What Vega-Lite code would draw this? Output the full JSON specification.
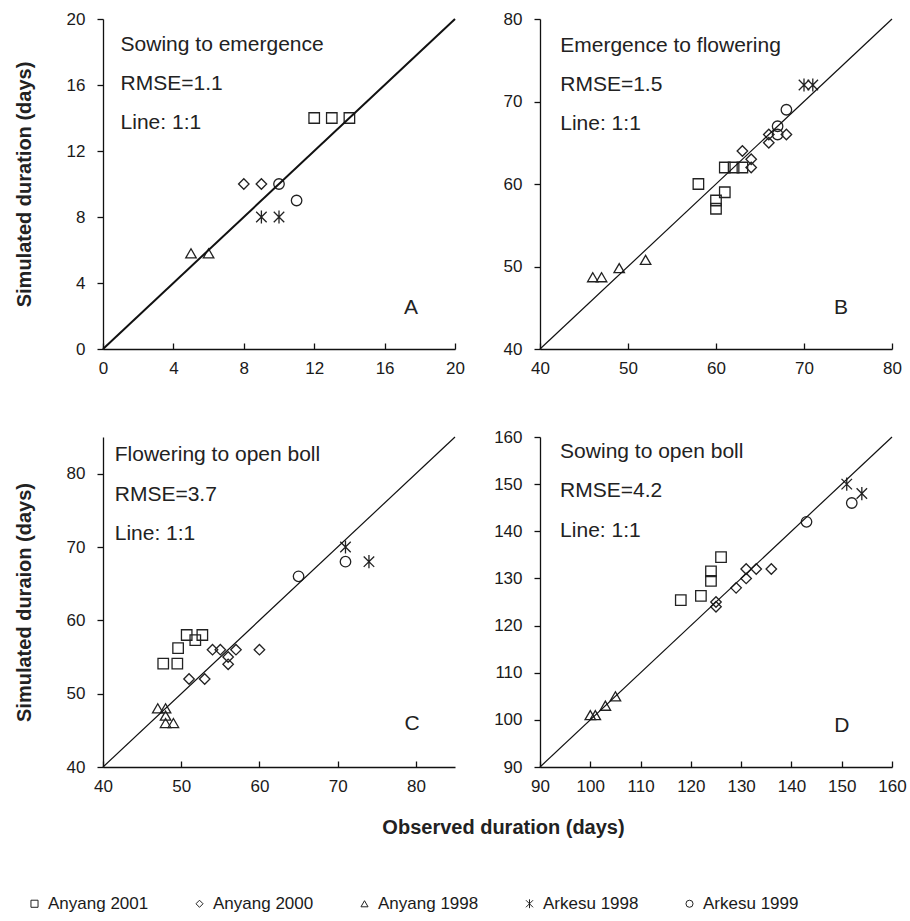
{
  "$schema": "https://vega.github.io/schema/vega-lite/v6.json",
  "padding": {"left": 14, "top": 10, "right": 4, "bottom": 8},
  "background": "white",
  "bounds": "flush",
  "columns": 2,
  "spacing": {"row": 88, "column": 85},
  "config": {
    "font": "Liberation Sans",
    "view": {"stroke": null},
    "axis": {
      "grid": false,
      "labelFlush": false,
      "labelOverlap": false,
      "domainColor": "#111",
      "tickColor": "#111",
      "domainWidth": 1.3,
      "tickWidth": 1.3,
      "labelFont": "Liberation Sans",
      "labelFontSize": 17,
      "labelColor": "#1a1a1a",
      "titleFont": "Liberation Sans",
      "titleFontSize": 20,
      "titleFontWeight": "bold",
      "titleColor": "#222"
    },
    "axisX": {"tickSize": -6, "labelPadding": 17},
    "axisY": {"tickSize": 6, "labelPadding": 12, "titlePadding": 32},
    "legend": {
      "orient": "none",
      "legendX": -77,
      "legendY": 876,
      "direction": "horizontal",
      "title": null,
      "labelFont": "Liberation Sans",
      "labelFontSize": 17,
      "labelColor": "#1a1a1a",
      "symbolSize": 50,
      "symbolStrokeColor": "#222",
      "symbolFillColor": "transparent",
      "symbolStrokeWidth": 1,
      "labelOffset": 5,
      "columnPadding": 42
    },
    "text": {"font": "Liberation Sans", "fontSize": 21, "color": "#222"}
  },
  "datasets": {
    "obs": [
      {"panel": "A", "site": "Anyang 2001", "observed": 12, "simulated": 14},
      {"panel": "A", "site": "Anyang 2001", "observed": 13, "simulated": 14},
      {"panel": "A", "site": "Anyang 2001", "observed": 14, "simulated": 14},
      {"panel": "A", "site": "Anyang 2000", "observed": 8, "simulated": 10},
      {"panel": "A", "site": "Anyang 2000", "observed": 9, "simulated": 10},
      {"panel": "A", "site": "Arkesu 1999", "observed": 10, "simulated": 10},
      {"panel": "A", "site": "Arkesu 1999", "observed": 11, "simulated": 9},
      {"panel": "A", "site": "Arkesu 1998", "observed": 9, "simulated": 8},
      {"panel": "A", "site": "Arkesu 1998", "observed": 10, "simulated": 8},
      {"panel": "A", "site": "Anyang 1998", "observed": 5, "simulated": 5.8},
      {"panel": "A", "site": "Anyang 1998", "observed": 6, "simulated": 5.8},

      {"panel": "B", "site": "Anyang 1998", "observed": 46, "simulated": 48.7},
      {"panel": "B", "site": "Anyang 1998", "observed": 47, "simulated": 48.7},
      {"panel": "B", "site": "Anyang 1998", "observed": 49, "simulated": 49.8},
      {"panel": "B", "site": "Anyang 1998", "observed": 52, "simulated": 50.8},
      {"panel": "B", "site": "Anyang 2001", "observed": 58, "simulated": 60},
      {"panel": "B", "site": "Anyang 2001", "observed": 60, "simulated": 58},
      {"panel": "B", "site": "Anyang 2001", "observed": 60, "simulated": 57},
      {"panel": "B", "site": "Anyang 2001", "observed": 61, "simulated": 59},
      {"panel": "B", "site": "Anyang 2001", "observed": 61, "simulated": 62},
      {"panel": "B", "site": "Anyang 2001", "observed": 62, "simulated": 62},
      {"panel": "B", "site": "Anyang 2001", "observed": 63, "simulated": 62},
      {"panel": "B", "site": "Anyang 2000", "observed": 63, "simulated": 64},
      {"panel": "B", "site": "Anyang 2000", "observed": 64, "simulated": 63},
      {"panel": "B", "site": "Anyang 2000", "observed": 64, "simulated": 62},
      {"panel": "B", "site": "Anyang 2000", "observed": 66, "simulated": 66},
      {"panel": "B", "site": "Anyang 2000", "observed": 66, "simulated": 65},
      {"panel": "B", "site": "Anyang 2000", "observed": 68, "simulated": 66},
      {"panel": "B", "site": "Arkesu 1999", "observed": 67, "simulated": 67},
      {"panel": "B", "site": "Arkesu 1999", "observed": 67, "simulated": 66},
      {"panel": "B", "site": "Arkesu 1999", "observed": 68, "simulated": 69},
      {"panel": "B", "site": "Arkesu 1998", "observed": 70, "simulated": 72},
      {"panel": "B", "site": "Arkesu 1998", "observed": 71, "simulated": 72},

      {"panel": "C", "site": "Anyang 1998", "observed": 47, "simulated": 48},
      {"panel": "C", "site": "Anyang 1998", "observed": 48, "simulated": 48},
      {"panel": "C", "site": "Anyang 1998", "observed": 48, "simulated": 47},
      {"panel": "C", "site": "Anyang 1998", "observed": 48, "simulated": 46},
      {"panel": "C", "site": "Anyang 1998", "observed": 49, "simulated": 46},
      {"panel": "C", "site": "Anyang 2001", "observed": 47.7, "simulated": 54.1},
      {"panel": "C", "site": "Anyang 2001", "observed": 49.5, "simulated": 54.1},
      {"panel": "C", "site": "Anyang 2001", "observed": 49.6, "simulated": 56.2},
      {"panel": "C", "site": "Anyang 2001", "observed": 50.7, "simulated": 58},
      {"panel": "C", "site": "Anyang 2001", "observed": 51.8, "simulated": 57.3},
      {"panel": "C", "site": "Anyang 2001", "observed": 52.7, "simulated": 58},
      {"panel": "C", "site": "Anyang 2000", "observed": 51, "simulated": 52},
      {"panel": "C", "site": "Anyang 2000", "observed": 53, "simulated": 52},
      {"panel": "C", "site": "Anyang 2000", "observed": 54, "simulated": 56},
      {"panel": "C", "site": "Anyang 2000", "observed": 55, "simulated": 56},
      {"panel": "C", "site": "Anyang 2000", "observed": 56, "simulated": 55},
      {"panel": "C", "site": "Anyang 2000", "observed": 56, "simulated": 54},
      {"panel": "C", "site": "Anyang 2000", "observed": 57, "simulated": 56},
      {"panel": "C", "site": "Anyang 2000", "observed": 60, "simulated": 56},
      {"panel": "C", "site": "Arkesu 1999", "observed": 65, "simulated": 66},
      {"panel": "C", "site": "Arkesu 1999", "observed": 71, "simulated": 68},
      {"panel": "C", "site": "Arkesu 1998", "observed": 71, "simulated": 70},
      {"panel": "C", "site": "Arkesu 1998", "observed": 74, "simulated": 68},

      {"panel": "D", "site": "Anyang 1998", "observed": 100, "simulated": 101},
      {"panel": "D", "site": "Anyang 1998", "observed": 101, "simulated": 101},
      {"panel": "D", "site": "Anyang 1998", "observed": 103, "simulated": 103},
      {"panel": "D", "site": "Anyang 1998", "observed": 105, "simulated": 105},
      {"panel": "D", "site": "Anyang 2001", "observed": 118, "simulated": 125.4},
      {"panel": "D", "site": "Anyang 2001", "observed": 122, "simulated": 126.3},
      {"panel": "D", "site": "Anyang 2001", "observed": 124, "simulated": 129.5},
      {"panel": "D", "site": "Anyang 2001", "observed": 124, "simulated": 131.5},
      {"panel": "D", "site": "Anyang 2001", "observed": 126, "simulated": 134.5},
      {"panel": "D", "site": "Anyang 2000", "observed": 125, "simulated": 125},
      {"panel": "D", "site": "Anyang 2000", "observed": 125, "simulated": 124},
      {"panel": "D", "site": "Anyang 2000", "observed": 129, "simulated": 128},
      {"panel": "D", "site": "Anyang 2000", "observed": 131, "simulated": 130},
      {"panel": "D", "site": "Anyang 2000", "observed": 131, "simulated": 132},
      {"panel": "D", "site": "Anyang 2000", "observed": 133, "simulated": 132},
      {"panel": "D", "site": "Anyang 2000", "observed": 136, "simulated": 132},
      {"panel": "D", "site": "Arkesu 1999", "observed": 143, "simulated": 142},
      {"panel": "D", "site": "Arkesu 1999", "observed": 152, "simulated": 146},
      {"panel": "D", "site": "Arkesu 1998", "observed": 151, "simulated": 150},
      {"panel": "D", "site": "Arkesu 1998", "observed": 154, "simulated": 148}
    ]
  },
  "concat": [
    {
      "width": 352, "height": 330,
      "layer": [
        {
          "data": {"name": "obs"},
          "transform": [{"filter": "datum.panel === 'A'"}],
          "mark": {"type": "point", "filled": false, "size": 110, "strokeWidth": 1.3, "color": "#222", "opacity": 1},
          "encoding": {
            "x": {"field": "observed", "type": "quantitative", "scale": {"domain": [0, 20], "nice": false}, "axis": {"values": [0, 4, 8, 12, 16, 20], "title": null}},
            "y": {"field": "simulated", "type": "quantitative", "scale": {"domain": [0, 20], "nice": false}, "axis": {"values": [0, 4, 8, 12, 16, 20], "title": "Simulated duration (days)"}},
            "shape": {"field": "site", "type": "nominal", "scale": {"domain": ["Anyang 2001", "Anyang 2000", "Anyang 1998", "Arkesu 1998", "Arkesu 1999"], "range": ["square", "diamond", "triangle-up", "M-1,-1L1,1M1,-1L-1,1M0,-1.25L0,1.25", "circle"]}}
          }
        },
        {
          "data": {"values": [{}]},
          "mark": {"type": "rule", "color": "#111", "strokeWidth": 2},
          "encoding": {"x": {"datum": 0}, "y": {"datum": 0}, "x2": {"datum": 20}, "y2": {"datum": 20}}
        },
        {
          "data": {"values": [{}]},
          "mark": {"type": "text", "align": "left", "baseline": "top", "lineHeight": 39},
          "encoding": {"x": {"datum": 1}, "y": {"datum": 19.1}, "text": {"value": ["Sowing to emergence", "RMSE=1.1", "Line: 1:1"]}}
        },
        {
          "data": {"values": [{}]},
          "mark": {"type": "text", "align": "center", "baseline": "middle"},
          "encoding": {"x": {"datum": 17.5}, "y": {"datum": 2.5}, "text": {"value": "A"}}
        }
      ]
    },
    {
      "width": 352, "height": 330,
      "layer": [
        {
          "data": {"name": "obs"},
          "transform": [{"filter": "datum.panel === 'B'"}],
          "mark": {"type": "point", "filled": false, "size": 110, "strokeWidth": 1.3, "color": "#222", "opacity": 1},
          "encoding": {
            "x": {"field": "observed", "type": "quantitative", "scale": {"domain": [40, 80], "nice": false}, "axis": {"values": [40, 50, 60, 70, 80], "title": null}},
            "y": {"field": "simulated", "type": "quantitative", "scale": {"domain": [40, 80], "nice": false}, "axis": {"values": [40, 50, 60, 70, 80], "title": null}},
            "shape": {"field": "site", "type": "nominal"}
          }
        },
        {
          "data": {"values": [{}]},
          "mark": {"type": "rule", "color": "#111", "strokeWidth": 1.2},
          "encoding": {"x": {"datum": 40}, "y": {"datum": 40}, "x2": {"datum": 80}, "y2": {"datum": 80}}
        },
        {
          "data": {"values": [{}]},
          "mark": {"type": "text", "align": "left", "baseline": "top", "lineHeight": 39},
          "encoding": {"x": {"datum": 42.3}, "y": {"datum": 78.1}, "text": {"value": ["Emergence to flowering", "RMSE=1.5", "Line: 1:1"]}}
        },
        {
          "data": {"values": [{}]},
          "mark": {"type": "text", "align": "center", "baseline": "middle"},
          "encoding": {"x": {"datum": 74.2}, "y": {"datum": 45}, "text": {"value": "B"}}
        }
      ]
    },
    {
      "width": 352, "height": 330,
      "layer": [
        {
          "data": {"name": "obs"},
          "transform": [{"filter": "datum.panel === 'C'"}],
          "mark": {"type": "point", "filled": false, "size": 110, "strokeWidth": 1.3, "color": "#222", "opacity": 1},
          "encoding": {
            "x": {"field": "observed", "type": "quantitative", "scale": {"domain": [40, 85], "nice": false}, "axis": {"values": [40, 50, 60, 70, 80], "title": "Observed duration (days)", "titleX": 400, "titleY": 50, "titleAnchor": "middle", "titleAlign": "center"}},
            "y": {"field": "simulated", "type": "quantitative", "scale": {"domain": [40, 85], "nice": false}, "axis": {"values": [40, 50, 60, 70, 80], "title": "Simulated duraion (days)"}},
            "shape": {"field": "site", "type": "nominal"}
          }
        },
        {
          "data": {"values": [{}]},
          "mark": {"type": "rule", "color": "#111", "strokeWidth": 1.2},
          "encoding": {"x": {"datum": 40}, "y": {"datum": 40}, "x2": {"datum": 85}, "y2": {"datum": 85}}
        },
        {
          "data": {"values": [{}]},
          "mark": {"type": "text", "align": "left", "baseline": "top", "lineHeight": 39.5},
          "encoding": {"x": {"datum": 41.5}, "y": {"datum": 84}, "text": {"value": ["Flowering to open boll", "RMSE=3.7", "Line: 1:1"]}}
        },
        {
          "data": {"values": [{}]},
          "mark": {"type": "text", "align": "center", "baseline": "middle"},
          "encoding": {"x": {"datum": 79.5}, "y": {"datum": 45.8}, "text": {"value": "C"}}
        }
      ]
    },
    {
      "width": 352, "height": 330,
      "layer": [
        {
          "data": {"name": "obs"},
          "transform": [{"filter": "datum.panel === 'D'"}],
          "mark": {"type": "point", "filled": false, "size": 110, "strokeWidth": 1.3, "color": "#222", "opacity": 1},
          "encoding": {
            "x": {"field": "observed", "type": "quantitative", "scale": {"domain": [90, 160], "nice": false}, "axis": {"values": [90, 100, 110, 120, 130, 140, 150, 160], "title": null}},
            "y": {"field": "simulated", "type": "quantitative", "scale": {"domain": [90, 160], "nice": false}, "axis": {"values": [90, 100, 110, 120, 130, 140, 150, 160], "title": null}},
            "shape": {"field": "site", "type": "nominal"}
          }
        },
        {
          "data": {"values": [{}]},
          "mark": {"type": "rule", "color": "#111", "strokeWidth": 1.2},
          "encoding": {"x": {"datum": 90}, "y": {"datum": 90}, "x2": {"datum": 160}, "y2": {"datum": 160}}
        },
        {
          "data": {"values": [{}]},
          "mark": {"type": "text", "align": "left", "baseline": "top", "lineHeight": 39.5},
          "encoding": {"x": {"datum": 94}, "y": {"datum": 159.2}, "text": {"value": ["Sowing to open boll", "RMSE=4.2", "Line: 1:1"]}}
        },
        {
          "data": {"values": [{}]},
          "mark": {"type": "text", "align": "center", "baseline": "middle"},
          "encoding": {"x": {"datum": 150}, "y": {"datum": 98.6}, "text": {"value": "D"}}
        }
      ]
    }
  ]
}
